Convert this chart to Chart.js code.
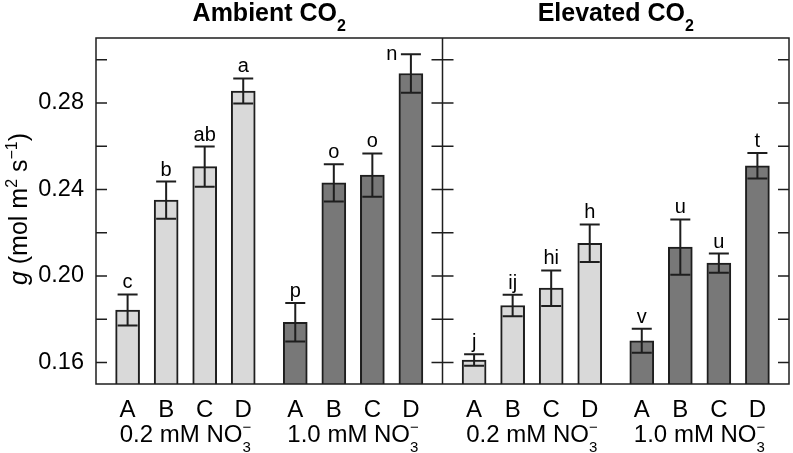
<!DOCTYPE html>
<html>
<head>
<meta charset="utf-8">
<script src="https://cdn.jsdelivr.net/npm/chart.js@4.4.0/dist/chart.umd.min.js"></script>
<style>
  html, body { margin: 0; padding: 0; background: #fff; }
  #wrap { width: 793px; height: 453px; }
</style>
</head>
<body>
<div id="wrap"><canvas id="grafico"></canvas></div>
<script>
// Dados
const treatments = ['A', 'B', 'C', 'D'];
const panelTitles = ['Ambient CO', 'Elevated CO'];   // + subscript 2
const nitrateLabels = ['0.2 mM NO', '1.0 mM NO'];    // + NO3-

const ambientLow = [0.1842, 0.2350, 0.2505, 0.2855];
const ambientLowErr = [0.0072, 0.0086, 0.0093, 0.0058];
const ambientLowLetters = ['c', 'b', 'ab', 'a'];

const ambientHigh = [0.1785, 0.2430, 0.2466, 0.2936];
const ambientHighErr = [0.0089, 0.0086, 0.0100, 0.0089];
const ambientHighLetters = ['p', 'o', 'o', 'n'];

const elevatedLow = [0.1611, 0.1863, 0.1943, 0.2151];
const elevatedLowErr = [0.0027, 0.0050, 0.0082, 0.0087];
const elevatedLowLetters = ['j', 'ij', 'hi', 'h'];

const elevatedHigh = [0.1700, 0.2133, 0.2059, 0.2509];
const elevatedHighErr = [0.0055, 0.0128, 0.0044, 0.0059];
const elevatedHighLetters = ['v', 'u', 'u', 't'];

const yTickValues = [0.16, 0.18, 0.20, 0.22, 0.24, 0.26, 0.28, 0.30];
const yTickLabels = ['0.16', '', '0.20', '', '0.24', '', '0.28', ''];

const FONT = "'Liberation Sans', Arial, sans-serif";
const LIGHT = '#d9d9d9';
const DARK = '#787878';
const INK = '#1e1e1e';

// posicao das barras no eixo x
const groupStep = 4.35;
const panelStep = 8.99;
const edge = 0.82;
function xPos(panel, group, i) {
    return panel * panelStep + group * groupStep + i;
}

const series = [
    { panel: 0, group: 0, values: ambientLow, err: ambientLowErr, letters: ambientLowLetters },
    { panel: 0, group: 1, values: ambientHigh, err: ambientHighErr, letters: ambientHighLetters },
    { panel: 1, group: 0, values: elevatedLow, err: elevatedLowErr, letters: elevatedLowLetters },
    { panel: 1, group: 1, values: elevatedHigh, err: elevatedHighErr, letters: elevatedHighLetters }
];

const bars = [];
series.forEach(s => {
    s.values.forEach((v, i) => {
        bars.push({ x: xPos(s.panel, s.group, i), y: v, err: s.err[i], letter: s.letters[i], group: s.group });
    });
});

// texto com sub/sobrescrito
function drawRich(ctx, parts, cx, base) {
    let total = 0;
    parts.forEach(p => {
        ctx.font = p.font;
        if (p.stack) {
            p.w = Math.max(ctx.measureText(p.sub).width, ctx.measureText(p.sup).width);
        } else {
            p.w = ctx.measureText(p.t).width;
        }
        total += p.w;
    });
    let px = cx - total / 2;
    ctx.textAlign = 'left';
    ctx.textBaseline = 'alphabetic';
    parts.forEach(p => {
        ctx.font = p.font;
        if (p.stack) {
            ctx.fillText(p.sub, px, base + p.subDy);
            ctx.fillText(p.sup, px, base + p.supDy);
        } else {
            ctx.fillText(p.t, px, base + (p.dy || 0));
        }
        px += p.w;
    });
}

const extras = {
    id: 'extras',
    afterDatasetsDraw(chart) {
        const { ctx, chartArea: a, scales: { x, y } } = chart;
        ctx.save();
        ctx.strokeStyle = INK;
        ctx.lineWidth = 2;
        ctx.fillStyle = '#000';
        bars.forEach(b => {
            const px = x.getPixelForValue(b.x);
            const top = y.getPixelForValue(b.y + b.err);
            const bot = y.getPixelForValue(b.y - b.err);
            ctx.beginPath();
            ctx.moveTo(px, top); ctx.lineTo(px, bot);
            ctx.moveTo(px - 10, top); ctx.lineTo(px + 10, top);
            ctx.moveTo(px - 10, bot); ctx.lineTo(px + 10, bot);
            ctx.stroke();
            ctx.font = '20px ' + FONT;
            ctx.textAlign = 'center';
            ctx.textBaseline = 'alphabetic';
            // se nao cabe acima, vai para o lado
            if (top - 22 < a.top) {
                ctx.fillText(b.letter, px - 19, top + 6);
            } else {
                ctx.fillText(b.letter, px, top - 6);
            }
        });
        ctx.restore();
    },
    afterDraw(chart) {
        const { ctx, chartArea: a, scales: { x, y } } = chart;
        const divider = x.getPixelForValue(panelStep - edge);
        ctx.save();

        // moldura e divisoria
        ctx.strokeStyle = INK;
        ctx.lineWidth = 1.5;
        ctx.strokeRect(a.left, a.top, a.right - a.left, a.bottom - a.top);
        ctx.beginPath();
        ctx.moveTo(divider, a.top); ctx.lineTo(divider, a.bottom);
        // ticks para dentro
        yTickValues.forEach(v => {
            const py = y.getPixelForValue(v);
            ctx.moveTo(a.left, py); ctx.lineTo(a.left + 11, py);
            ctx.moveTo(divider - 11, py); ctx.lineTo(divider + 11, py);
            ctx.moveTo(a.right - 11, py); ctx.lineTo(a.right, py);
        });
        ctx.stroke();

        ctx.fillStyle = '#000';

        // titulos dos paineis
        panelTitles.forEach((t, p) => {
            const cx = (x.getPixelForValue(p * panelStep - edge) + x.getPixelForValue((p + 1) * panelStep - edge)) / 2;
            drawRich(ctx, [
                { t: t, font: 'bold 25px ' + FONT },
                { t: '2', font: 'bold 16px ' + FONT, dy: 10 }
            ], cx, 21);
        });

        // rotulos de nitrato
        for (let p = 0; p < 2; p++) {
            nitrateLabels.forEach((t, g) => {
                const cx = x.getPixelForValue(xPos(p, g, 1.5));
                drawRich(ctx, [
                    { t: t, font: '24px ' + FONT },
                    { stack: true, sub: '3', sup: '\u2212', font: '15px ' + FONT, subDy: 10, supDy: -10 }
                ], cx, 441.5);
            });
        }

        // titulo do eixo y
        ctx.translate(27, 209);
        ctx.rotate(-Math.PI / 2);
        drawRich(ctx, [
            { t: 'g', font: 'italic 25px ' + FONT },
            { t: ' (mol m', font: '25px ' + FONT },
            { t: '2', font: '16px ' + FONT, dy: -10 },
            { t: ' s', font: '25px ' + FONT },
            { t: '\u22121', font: '16px ' + FONT, dy: -10 },
            { t: ')', font: '25px ' + FONT }
        ], 0, 0);
        ctx.restore();
    }
};

const ctx = document.getElementById('grafico').getContext('2d');
const grafico = new Chart(ctx, {
    type: 'bar',
    data: {
        datasets: [{
            data: bars,
            backgroundColor: c => (c.raw && c.raw.group ? DARK : LIGHT),
            borderColor: INK,
            borderWidth: 2,
            barThickness: 24,
            grouped: false
        }]
    },
    options: {
        responsive: true,
        maintainAspectRatio: false,
        animation: false,
        layout: { padding: { top: 38, right: 4, left: 0, bottom: 0 } },
        plugins: {
            legend: { display: false },
            tooltip: { enabled: false }
        },
        scales: {
            x: {
                type: 'linear',
                offset: false,
                min: -edge,
                max: 2 * panelStep - edge,
                afterBuildTicks: s => { s.ticks = bars.map(b => ({ value: b.x })); },
                afterFit: s => { s.height = 69; },
                grid: { display: false },
                border: { display: false },
                ticks: {
                    autoSkip: false,
                    maxRotation: 0,
                    padding: 4,
                    color: '#000',
                    font: { size: 24, family: FONT },
                    callback: (v, i) => treatments[i % 4]
                }
            },
            y: {
                min: 0.15,
                max: 0.31,
                afterBuildTicks: s => { s.ticks = yTickValues.map(v => ({ value: v })); },
                afterFit: s => { s.width = 96; },
                grid: { display: false },
                border: { display: false },
                ticks: {
                    padding: 4,
                    color: '#000',
                    font: { size: 23.5, family: FONT },
                    callback: (v, i) => yTickLabels[i]
                }
            }
        }
    },
    plugins: [extras]
});
</script>
</body>
</html>
